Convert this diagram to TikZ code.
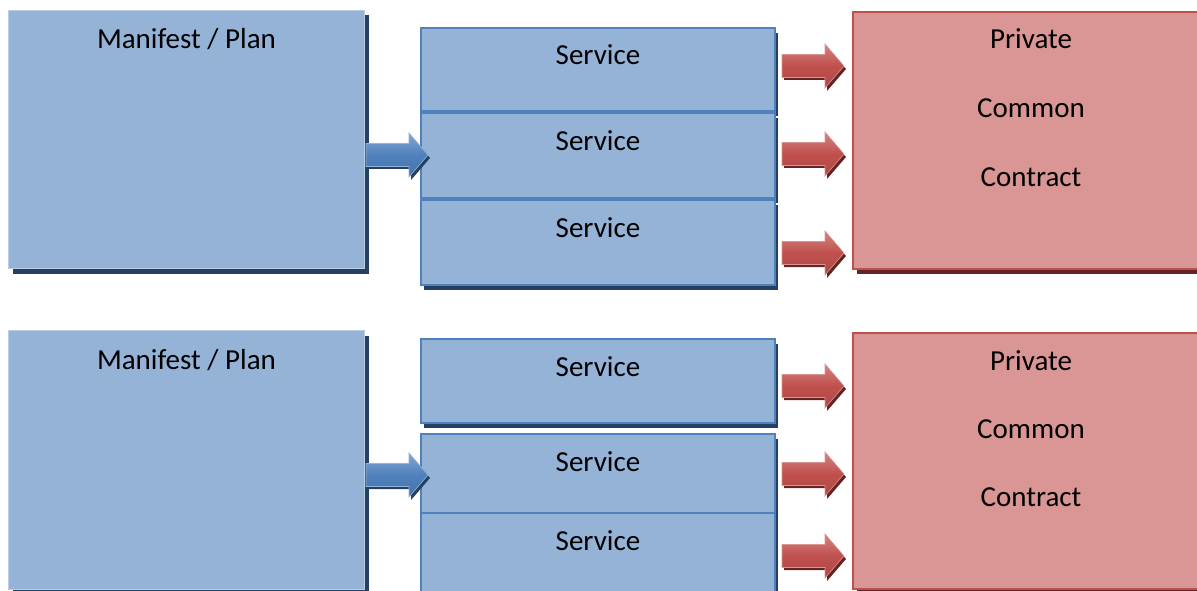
\documentclass[tikz,border=0pt]{standalone}
\usepackage{fontspec}
\setmainfont{Carlito}
\usepackage{tikz}
\usetikzlibrary{shadows,positioning,calc}
\definecolor{boxblue}{HTML}{95B3D7}
\definecolor{edgeblue}{HTML}{4F81BD}
\definecolor{paleblue}{HTML}{B9CDE5}
\definecolor{darkblue}{HTML}{254061}
\definecolor{boxred}{HTML}{D99694}
\definecolor{edgered}{HTML}{C0504D}
\definecolor{darkred}{HTML}{632523}
\tikzset{
    x=1pt, y=-1pt,
    box/.style ={rectangle, anchor=north west, inner sep=0pt, fill=boxblue},
    plan/.style ={box, draw=paleblue, line width=1pt, drop shadow={shadow xshift=4pt, shadow yshift=-5pt, fill=darkblue, opacity=1}},
    srv/.style ={box, draw=edgeblue, line width=2pt, minimum width=354pt, drop shadow={shadow xshift=3pt, shadow yshift=-5pt, fill=darkblue, opacity=1}},
    prv/.style ={box, fill=boxred, draw=edgered, line width=2pt, drop shadow={shadow xshift=4pt, shadow yshift=-5pt, fill=darkred, opacity=1}},
    txt/.style = {anchor=base, inner sep=0pt, font=\fontsize{29}{33}\selectfont},
    bluearrow/.style={arrow shadow/.style={fill=darkblue}, arrow body/.style={top color=edgeblue!70!white, bottom color=edgeblue!90!black, middle color=edgeblue, draw=boxblue, line width=0.6pt}},
    redarrow/.style={arrow shadow/.style={fill=darkred}, arrow body/.style={top color=edgered!70!white, bottom color=edgered!90!black, middle color=edgered, draw=boxred, line width=0.6pt}},
    blockarrow/.pic={
        \path[arrow shadow] (2,-8) -- (45,-8) -- (45,-19) -- (64,3) -- (45,25) -- (45,14) -- (2,14) -- cycle;
        \path[arrow body] (0,-11.5) -- (43,-11.5) -- (43,-22) -- (62,0) -- (43,22) -- (43,11.5) -- (0,11.5) -- cycle;
        \coordinate (tip) at (62,0);
    }
}

\begin{document}
\begin{tikzpicture}
    \useasboundingbox (0,0) rectangle (1197,591);
    \clip (0,0) rectangle (1197,591);

    % Upper row
    \node[plan, minimum width=356pt, minimum height=258pt] (man1) at (8,10) {};
    \node[srv, minimum height=83pt] (srv11) at (420,27) {};
    \node[srv, minimum height=85pt] (srv12) at (420,112) {};
    \node[srv, minimum height=85pt] (srv13) at (420,199) {};
    \node[prv, minimum width=356pt, minimum height=257pt] (prv1) at (852,11) {};

    \node[txt] (tman1) at ([yshift=-39pt]man1.north) {Manifest / Plan};
    \node[txt] (tsrv11) at ([yshift=-38pt]srv11.north) {Service};
    \node[txt] (tsrv12) at ([yshift=-38pt]srv12.north) {Service};
    \node[txt] (tsrv13) at ([yshift=-38pt]srv13.north) {Service};
    \node[txt] (tprv11) at ([yshift=-38pt]prv1.north) {Private};
    \node[txt] (tprv12) [below=69pt of tprv11.base, anchor=base] {Common};
    \node[txt] (tprv13) [below=68pt of tprv12.base, anchor=base] {Contract};

    % Arrows
    \pic[bluearrow] (ba1) at (366,155) {blockarrow};
    \pic[redarrow] (ra11) at (782,66) {blockarrow};
    \pic[redarrow] (ra12) at (782,154) {blockarrow};
    \pic[redarrow] (ra13) at (782,253) {blockarrow};

    % Lower row
    \node[plan, minimum width=356pt, minimum height=259pt] (man2) at (8,330) {};
    \node[srv, minimum height=84pt] (srv21) at (420,338) {};
    \node[srv, minimum height=79pt] (srv22) at (420,433) {};
    \node[srv, minimum height=90pt] (srv23) at (420,512) {};
    \node[prv, minimum width=356pt, minimum height=256pt] (prv2) at (852,332) {};

    \node[txt] (tman2) at ([yshift=-39pt]man2.north) {Manifest / Plan};
    \node[txt] (tsrv21) at ([yshift=-38pt]srv21.north) {Service};
    \node[txt] (tsrv22) at ([yshift=-38pt]srv22.north) {Service};
    \node[txt] (tsrv23) at ([yshift=-38pt]srv23.north) {Service};
    \node[txt] (tprv21) at ([yshift=-38pt]prv2.north) {Private};
    \node[txt] (tprv22) [below=68pt of tprv21.base, anchor=base] {Common};
    \node[txt] (tprv23) [below=68pt of tprv22.base, anchor=base] {Contract};

    % Arrows
    \pic[bluearrow] (ba2) at (366,475) {blockarrow};
    \pic[redarrow] (ra21) at (782,386) {blockarrow};
    \pic[redarrow] (ra22) at (782,474) {blockarrow};
    \pic[redarrow] (ra23) at (782,556) {blockarrow};
\end{tikzpicture}
\end{document}
